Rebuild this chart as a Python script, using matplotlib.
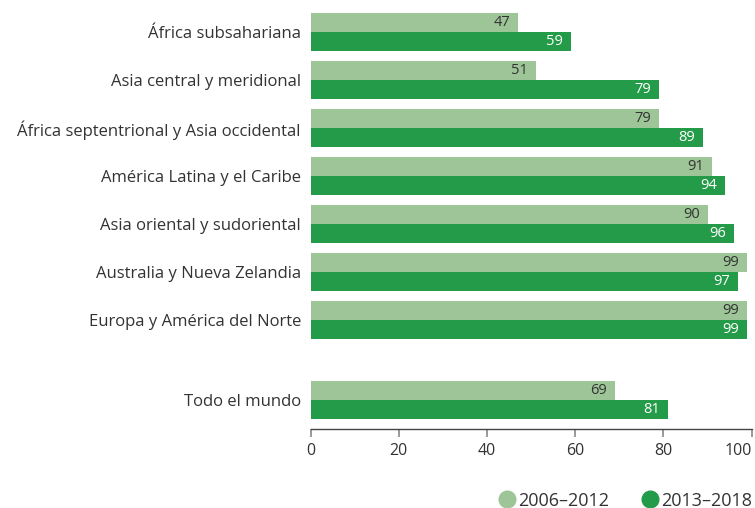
import numpy as np
import matplotlib.pyplot as plt
from matplotlib.lines import Line2D

plt.rcParams['font.family'] = ['Open Sans', 'DejaVu Sans']

regiones = [
    'África subsahariana',
    'Asia central y meridional',
    'África septentrional y Asia occidental',
    'América Latina y el Caribe',
    'Asia oriental y sudoriental',
    'Australia y Nueva Zelandia',
    'Europa y América del Norte',
    'Todo el mundo',
]
valores_2006_2012 = [47, 51, 79, 91, 90, 99, 99, 69]
valores_2013_2018 = [59, 79, 89, 94, 96, 97, 99, 81]
series = ['2006–2012', '2013–2018']

color_claro = '#9dc597'
color_oscuro = '#249b48'
color_texto = '#333333'

# posiciones: regiones 0..6, "Todo el mundo" separado un poco
pos = np.array([0, 1, 2, 3, 4, 5, 6, 7.67])
h = 0.396

fig = plt.figure(figsize=(7.55, 5.08), dpi=100)
ax = fig.add_axes([0.4115, 0.1555, 0.5840, 0.8325])

b1 = ax.barh(pos - h / 2, valores_2006_2012, height=h, color=color_claro)
b2 = ax.barh(pos + h / 2, valores_2013_2018, height=h, color=color_oscuro)

for rect, v in zip(b1, valores_2006_2012):
    ax.text(v - 1.8, rect.get_y() + rect.get_height() / 2, str(v),
            ha='right', va='center', fontsize=10.5, color=color_texto)
for rect, v in zip(b2, valores_2013_2018):
    ax.text(v - 1.8, rect.get_y() + rect.get_height() / 2, str(v),
            ha='right', va='center', fontsize=10.5, color='white')

ax.set_xlim(0, 100)
ax.set_ylim(8.27, -0.55)
ax.set_xticks([0, 20, 40, 60, 80, 100])
ax.set_yticks(pos)
ax.set_yticklabels(regiones)

for s in ['top', 'right', 'left']:
    ax.spines[s].set_visible(False)
ax.spines['bottom'].set_color('#444444')
ax.spines['bottom'].set_linewidth(1.0)
ax.tick_params(axis='y', length=0, pad=7, labelsize=12, labelcolor=color_texto)
ax.tick_params(axis='x', length=6, width=1.2, color='#888888', pad=4,
               labelsize=11.5, labelcolor=color_texto)
# la etiqueta "100" queda pegada al borde derecho
ax.get_xticklabels()[-1].set_horizontalalignment('right')

handles = [
    Line2D([], [], marker='o', linestyle='', markersize=12, color=color_claro),
    Line2D([], [], marker='o', linestyle='', markersize=12, color=color_oscuro),
]
fig.legend(handles, series, loc='lower right', bbox_to_anchor=(1.017, -0.035),
           ncol=2, frameon=False, fontsize=13, handlelength=0.8,
           handletextpad=0.2, columnspacing=1.85, labelcolor=color_texto)

fig.savefig('out.png', dpi=100)
